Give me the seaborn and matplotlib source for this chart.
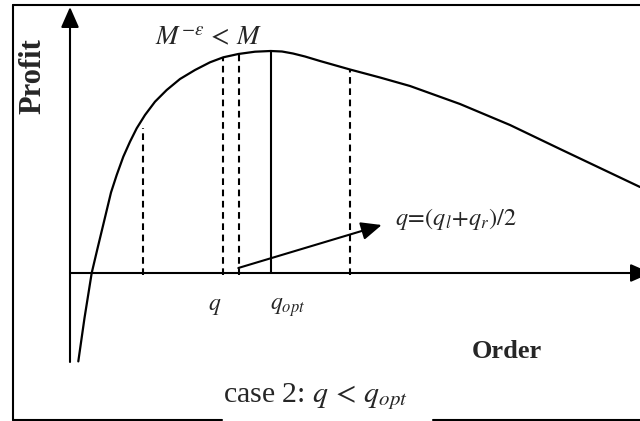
import matplotlib
matplotlib.use("Agg")
import matplotlib.pyplot as plt
import seaborn as sns

# Profit curve vs order quantity (origin = where the axes cross)
curve_order = [8.3, 14.5, 21.7, 27.5, 33.3, 41, 46.7, 53.3, 60, 66.7, 75, 85, 96.7,
               110, 125, 140, 153.3, 168.3, 185, 200.7, 212, 223, 235, 250, 280, 310,
               340, 390, 440, 490, 530, 570]
curve_profit = [-88.4, -45, 0, 24.5, 48.5, 80.5, 98, 116.3, 131.3, 144.7, 158, 171.3, 183,
                194, 203, 210.7, 215.7, 219, 221.3, 222, 221.5, 219.5, 216.5, 212, 203.5, 195.5,
                187, 169, 148, 124, 105, 86]

# dashed guide lines (q_l, q, new q, q_r) and the optimum
guide_order = [72.7, 152.7, 169, 280]
guide_top = [145, 215, 222, 204]
opt_order = 200.7
opt_profit = 222

sns.set_style("white")
plt.rcParams["font.family"] = ["Liberation Serif", "DejaVu Serif"]
plt.rcParams["mathtext.fontset"] = "stix"

fig = plt.figure(figsize=(6.4, 4.21), dpi=100)
ax = fig.add_axes([0, 0, 1, 1])
ax.set_xlim(-70, 570)
ax.set_ylim(-148, 273)
ax.axis("off")

sns.lineplot(x=curve_order, y=curve_profit, sort=False, color="black", lw=1.6, ax=ax)

ax.vlines(guide_order, -2, guide_top, colors="black", lw=1.5, linestyles=(0, (3.2, 2.2)))
ax.vlines(opt_order, 0, opt_profit, colors="black", lw=1.5)

head = dict(arrowstyle="-|>,head_length=1.25,head_width=0.55", mutation_scale=10,
            color="black", lw=1.5, shrinkA=0, shrinkB=0)
# axes
ax.annotate("", xy=(0, 266), xytext=(0, -89), arrowprops=head, annotation_clip=False)
ax.annotate("", xy=(581, 0), xytext=(0, 0), arrowprops=head, annotation_clip=False)
# bisection step arrow
ax.annotate("", xy=(311.7, 48), xytext=(168.3, 5), arrowprops=head)

# outer frame
ax.plot([-57, -57], [-147, 268], color="black", lw=1.5)
ax.plot([-57, 570], [268, 268], color="black", lw=1.5)
ax.plot([-57, 152], [-147, -147], color="black", lw=1.5)
ax.plot([363, 570], [-147, -147], color="black", lw=1.5)

ax.text(-37, 197, "Profit", rotation=90, ha="center", va="center",
        fontsize=22, fontweight="bold")
ax.text(85, 228, r"$M^{-\varepsilon}\,<\,M$", fontsize=19.5, va="baseline")
ax.text(138, -37, r"$q$", fontsize=17, va="baseline")
ax.text(200, -37, r"$q_{opt}$", fontsize=17, va="baseline")
ax.text(325, 48, r"$q\!=\!(q_l\!+\!q_r)/2$", fontsize=17.5, va="baseline")
ax.text(402, -85, "Order", fontsize=19, fontweight="bold", va="baseline")
ax.text(153, -129, r"case 2: $q\,<\,q_{opt}$", fontsize=21.5, va="baseline")

plt.savefig("out.png", dpi=100)
